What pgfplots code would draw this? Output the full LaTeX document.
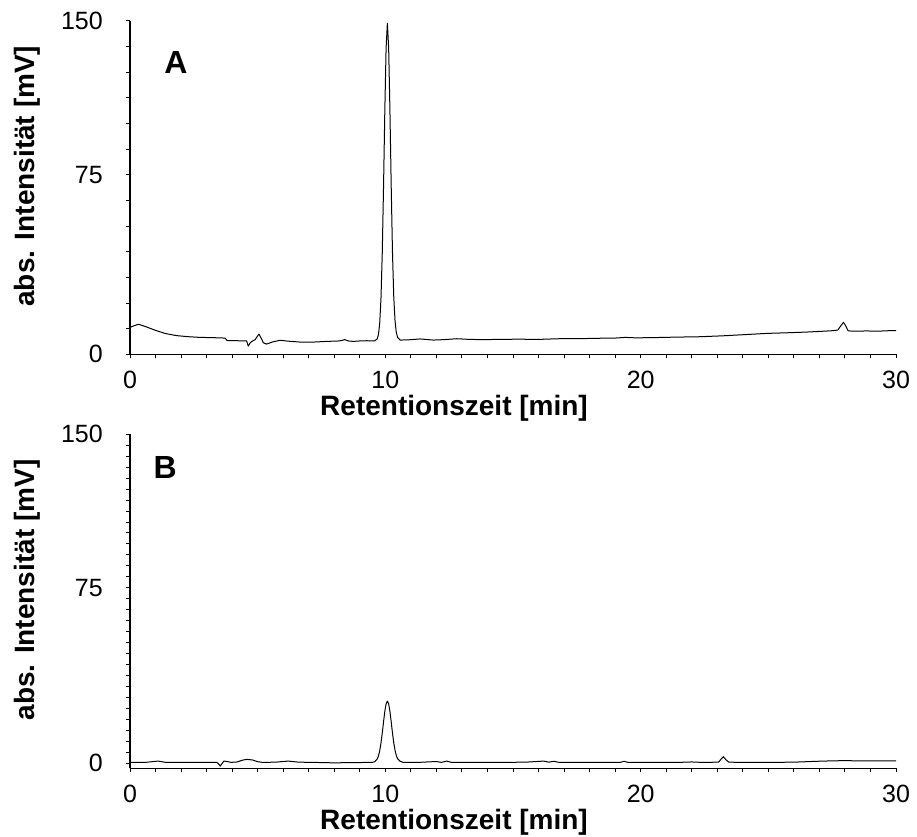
\documentclass[border=0pt]{standalone}
\usepackage{fontspec}
\setmainfont{Liberation Sans}
\usepackage{pgfplots}
\usepackage{pgfplotstable}
\pgfplotsset{compat=1.18}

% Chromatogram A: retention time [min], absolute intensity [mV]
\pgfplotstableread{
t v
0 12.1
0.15 12.8
0.33 13.5
0.6 12.5
1.04 10.6
1.4 9.3
1.82 8.4
2.3 7.9
2.74 7.6
3.2 7.5
3.72 7.3
3.8 6.2
4.2 6.1
4.57 6.0
4.63 3.7
4.7 5.0
4.76 5.7
4.9 6.6
5.05 9.1
5.15 7.0
5.22 5.2
5.35 4.6
5.6 5.6
5.88 6.3
6.2 5.9
6.66 5.5
7.2 5.5
7.7 5.8
8.2 6.0
8.41 6.6
8.55 6.0
8.74 5.8
9.0 6.0
9.27 6.1
9.58 6.0
9.68 6.9
9.73 8.8
9.78 14.0
9.83 25.3
9.88 45.7
9.93 75.5
9.98 109.7
10.03 137.8
10.08 148.8
10.13 137.8
10.18 109.7
10.23 75.5
10.28 45.7
10.33 25.8
10.38 15.0
10.43 9.8
10.48 7.6
10.58 6.4
10.9 6.5
11.36 6.9
11.88 6.4
12.3 6.6
12.79 7.0
13.3 6.7
13.8 6.6
14.49 6.7
15.2 6.8
16.0 6.7
16.8 7.0
17.5 7.0
18.3 7.2
19.0 7.3
19.4 7.6
19.8 7.4
20.5 7.5
21.3 7.7
22.33 7.9
23.2 8.3
24.0 8.8
24.94 9.4
25.8 9.7
26.5 10.0
27.02 10.3
27.5 10.6
27.72 10.9
27.85 13.0
27.94 14.4
28.03 12.8
28.13 10.5
28.5 10.4
28.82 10.5
29.3 10.4
29.7 10.6
30 10.6
}\chromA

% Chromatogram B
\pgfplotstableread{
t v
0 0.3
0.6 0.3
1.1 0.9
1.4 0.3
2.0 0.3
2.8 0.3
3.4 0.3
3.48 -0.5
3.53 -1.4
3.6 -0.3
3.68 0.9
3.85 0.6
3.95 0.3
4.2 0.5
4.4 1.3
4.57 1.7
4.8 1.4
5.0 0.6
5.2 0.3
5.7 0.4
6.2 0.9
6.6 0.4
7.2 0.3
7.96 0.1
8.8 0.2
9.4 0.3
9.48 0.3
9.58 0.6
9.68 1.8
9.73 3.2
9.78 5.6
9.83 9.2
9.88 13.7
9.93 18.8
9.98 23.6
10.03 27.0
10.08 28.3
10.13 27.0
10.18 23.6
10.23 18.8
10.28 13.7
10.33 9.2
10.38 5.8
10.43 3.4
10.48 2.0
10.58 0.8
10.7 0.3
11.3 0.3
12.0 0.7
12.2 0.3
12.4 0.9
12.6 0.3
13.5 0.3
14.5 0.3
15.5 0.4
16.2 0.9
16.4 0.4
16.6 0.8
16.8 0.3
17.8 0.3
19.2 0.3
19.35 0.8
19.5 0.3
20.5 0.3
21.5 0.3
22.0 0.5
22.4 0.3
23.05 0.4
23.15 1.8
23.24 2.9
23.33 1.6
23.45 0.4
24.0 0.3
25 0.3
26 0.4
26.9 0.8
27.5 1.0
28.0 1.1
28.5 1.0
29.2 1.0
30 1.0
}\chromB

\pgfplotsset{
  chrom/.style={
    scale only axis, width=766pt,
    xmin=0, xmax=30, ymax=150,
    axis x line=bottom, axis y line=left,
    axis line style={-, line width=1.1pt, black},
    xtick={0,10,20,30}, minor x tick num=9,
    tick align=outside, tick style={black, line width=0.9pt},
    major tick length=4pt, minor tick length=4pt,
    /pgf/number format/assume math mode=true,
    tick label style={font=\fontsize{25}{30}\selectfont},
    xticklabel style={inner sep=0pt, yshift=-12.5pt},
    yticklabel style={inner sep=0pt, xshift=-23pt},
    xlabel={Retentionszeit [min]},
    ylabel={abs. Intensität [mV]},
    label style={font=\fontsize{28}{33}\selectfont\bfseries},
    x label style={at={(axis description cs:0.423,-0.182)}, anchor=base},
    y label style={at={(axis description cs:-0.1345,0.534)}, anchor=center},
  },
  trace/.style={black, line width=1pt, line join=round, mark=none},
}

\begin{document}
\begin{tikzpicture}[x=1pt,y=1pt]
\path[use as bounding box] (0,0) rectangle (917,836);

\begin{axis}[chrom, height=333.6pt, at={(130pt,481.7pt)}, anchor=south west,
  ymin=0,
  ytick={0,80.77,150}, yticklabels={0,75,150},
  minor ytick={11.54,23.08,34.62,46.15,57.69,69.23,92.31,103.85,115.38,126.92,138.46}]
  \addplot[trace] table[x=t, y=v] {\chromA};
  \node[font=\fontsize{32}{38}\selectfont\bfseries] at (axis description cs:0.060,0.876) {A};
\end{axis}

\begin{axis}[chrom, height=334pt, at={(130pt,67.7pt)}, anchor=south west,
  ymin=-2.4,
  ytick={0,80,150}, yticklabels={0,75,150},
  minor ytick={5,10,...,145}]
  \addplot[trace] table[x=t, y=v] {\chromB};
  \node[font=\fontsize{32}{38}\selectfont\bfseries] at (axis description cs:0.046,0.902) {B};
\end{axis}
\end{tikzpicture}
\end{document}
